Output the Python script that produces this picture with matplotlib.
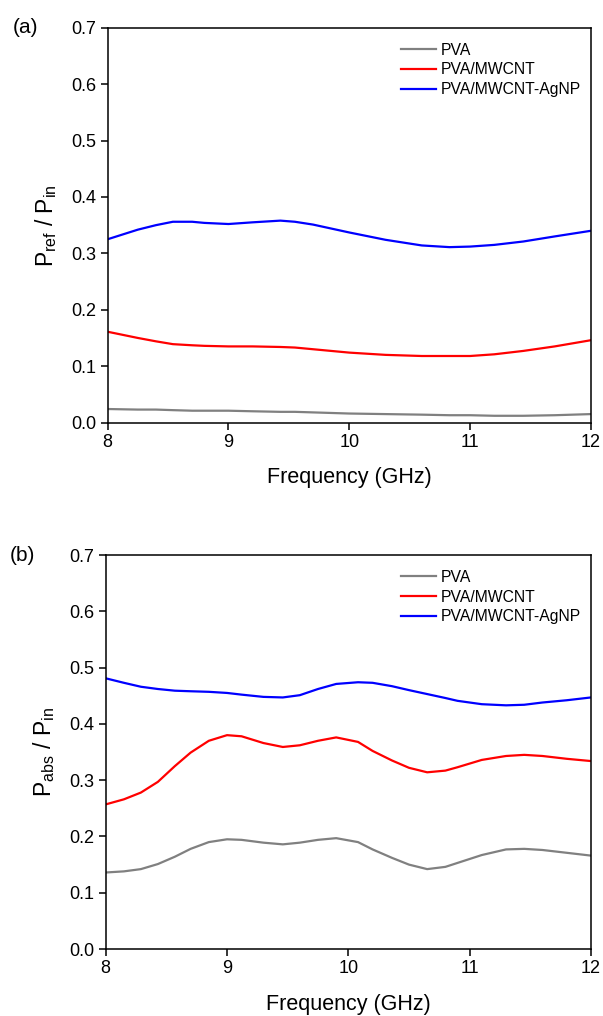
"""
Reflected / absorbed power ratio vs frequency, PVA composites.
"""
import matplotlib
matplotlib.use("Agg")
import matplotlib.pyplot as plt

plt.rcParams['font.family'] = ['Liberation Sans', 'DejaVu Sans']
plt.rcParams['mathtext.fontset'] = 'custom'
plt.rcParams['mathtext.rm'] = 'Liberation Sans'
plt.rcParams['mathtext.it'] = 'Liberation Sans'
plt.rcParams['mathtext.default'] = 'regular'

labels = ['PVA', 'PVA/MWCNT', 'PVA/MWCNT-AgNP']
colors = ['#808080', '#ff0000', '#0000ff']

# (a) P_ref / P_in
freq_a = [8.0, 8.25, 8.4, 8.54, 8.7, 8.8, 9.0, 9.2, 9.43, 9.55, 9.7, 10.0,
          10.3, 10.6, 10.83, 11.0, 11.2, 11.44, 11.7, 12.0]
ref_pva = [0.024, 0.023, 0.023, 0.022, 0.021, 0.021, 0.021, 0.020, 0.019,
           0.019, 0.018, 0.016, 0.015, 0.014, 0.013, 0.013, 0.012, 0.012,
           0.013, 0.015]
ref_mwcnt = [0.161, 0.150, 0.144, 0.139, 0.137, 0.136, 0.135, 0.135, 0.134,
             0.133, 0.130, 0.124, 0.120, 0.118, 0.118, 0.118, 0.121, 0.127,
             0.135, 0.146]
ref_agnp = [0.325, 0.342, 0.350, 0.356, 0.356, 0.354, 0.352, 0.355, 0.358,
            0.356, 0.351, 0.337, 0.324, 0.314, 0.311, 0.312, 0.315, 0.321,
            0.330, 0.340]

# (b) P_abs / P_in
freq_b = [8.0, 8.15, 8.29, 8.43, 8.57, 8.7, 8.85, 9.0, 9.12, 9.3, 9.46, 9.6,
          9.75, 9.9, 10.08, 10.2, 10.36, 10.5, 10.65, 10.8, 10.9, 11.1, 11.3,
          11.45, 11.6, 11.8, 12.0]
abs_pva = [0.136, 0.138, 0.142, 0.151, 0.164, 0.178, 0.190, 0.195, 0.194,
           0.189, 0.186, 0.189, 0.194, 0.197, 0.190, 0.177, 0.162, 0.150,
           0.142, 0.146, 0.153, 0.167, 0.177, 0.178, 0.176, 0.171, 0.166]
abs_mwcnt = [0.257, 0.266, 0.278, 0.297, 0.325, 0.349, 0.370, 0.380, 0.378,
             0.366, 0.359, 0.362, 0.370, 0.376, 0.368, 0.352, 0.335, 0.322,
             0.314, 0.317, 0.323, 0.336, 0.343, 0.345, 0.343, 0.338, 0.334]
abs_agnp = [0.481, 0.473, 0.466, 0.462, 0.459, 0.458, 0.457, 0.455, 0.452,
            0.448, 0.447, 0.451, 0.462, 0.471, 0.474, 0.473, 0.467, 0.460,
            0.453, 0.446, 0.441, 0.435, 0.433, 0.434, 0.438, 0.442, 0.447]

x_ticks = [8, 9, 10, 11, 12]
y_ticks = [0.0, 0.1, 0.2, 0.3, 0.4, 0.5, 0.6, 0.7]


def draw_panel(ax, freq, series, ylabel, tag):
    for ys, lab, col in zip(series, labels, colors):
        ax.plot(freq, ys, color=col, lw=1.6, label=lab)
    ax.set_xlim(8, 12)
    ax.set_ylim(0, 0.7)
    ax.set_xticks(x_ticks)
    ax.set_yticks(y_ticks)
    ax.set_yticklabels([f'{v:.1f}' for v in y_ticks])
    ax.tick_params(direction='out', length=5, width=1.1, labelsize=13,
                   pad=3)
    for sp in ax.spines.values():
        sp.set_linewidth(1.1)
    ax.set_xlabel('Frequency (GHz)', fontsize=15.5, labelpad=12)
    ax.set_ylabel(ylabel, fontsize=16.5, labelpad=9)
    ax.legend(loc='upper right', frameon=False, fontsize=11.3,
              handlelength=2.2, handletextpad=0.3, labelspacing=0.3,
              bbox_to_anchor=(1.008, 0.998))
    ax.text(-0.197, 1.0, tag, transform=ax.transAxes, fontsize=15,
            ha='left', va='center')


fig = plt.figure(figsize=(6.03, 10.16), dpi=100)
ax1 = fig.add_axes([0.1785, 0.5841, 0.8015, 0.3886])
ax2 = fig.add_axes([0.1753, 0.0659, 0.8047, 0.3878])

draw_panel(ax1, freq_a, [ref_pva, ref_mwcnt, ref_agnp],
           r'P$_{ref}$ / P$_{in}$', '(a)')
draw_panel(ax2, freq_b, [abs_pva, abs_mwcnt, abs_agnp],
           r'P$_{abs}$ / P$_{in}$', '(b)')

fig.savefig('out.png', dpi=100)
